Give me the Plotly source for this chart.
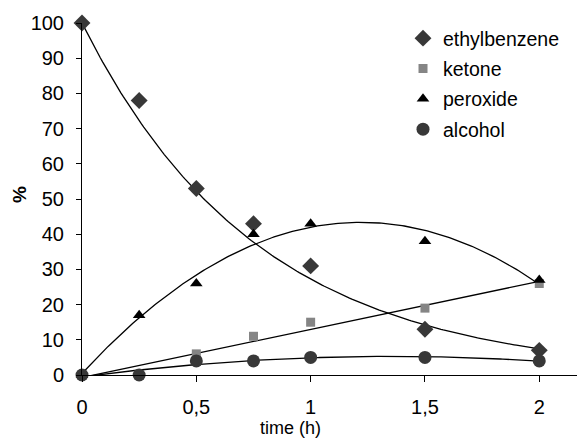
import numpy as np
import plotly.graph_objects as go

time_h = [0, 0.25, 0.5, 0.75, 1, 1.5, 2]
ethylbenzene = [100, 78, 53, 43, 31, 13, 7]
ketone = [0, 0, 6, 11, 15, 19, 26]
peroxide = [0, 17, 26, 40, 43, 38, 27]
alcohol = [0, 0, 4, 4, 5, 5, 4]
x_tickvals = [0, 0.5, 1, 1.5, 2]
x_ticktext = ["0", "0,5", "1", "1,5", "2"]

t = np.array(time_h, dtype=float)
xs = np.linspace(0, 2, 201)

# trend lines fitted from the data
eb = np.array(ethylbenzene, dtype=float)
# exponential trend line with intercept fixed at the initial value
k = np.sum(t * np.log(eb / eb[0])) / np.sum(t * t)
eb_fit = eb[0] * np.exp(k * xs)
ke_fit = np.polyval(np.polyfit(t, ketone, 1), xs)
pe_fit = np.polyval(np.polyfit(t, peroxide, 2), xs)
al_fit = np.polyval(np.polyfit(t, alcohol, 2), xs)

fig = go.Figure()
for fit in [eb_fit, ke_fit, pe_fit, al_fit]:
    fig.add_trace(go.Scatter(x=xs, y=fit, mode="lines", line=dict(color="black", width=1.3),
                             showlegend=False, hoverinfo="skip"))

series = [
    ("ethylbenzene", ethylbenzene, "diamond", "#383838", 13),
    ("ketone", ketone, "square", "#858585", 9),
    ("peroxide", peroxide, "triangle-up", "#000000", 11),
    ("alcohol", alcohol, "circle", "#383838", 13),
]
for name, vals, sym, col, size in series:
    fig.add_trace(go.Scatter(x=time_h, y=vals, mode="markers", name=name, legendgroup=name,
                             marker=dict(symbol=sym, color=col, size=size, line=dict(width=0)),
                             cliponaxis=False))

fig.update_layout(
    width=577, height=439,
    margin=dict(l=82, r=0, t=23, b=64),
    paper_bgcolor="white", plot_bgcolor="white",
    font=dict(family="Liberation Sans, Arial, sans-serif", size=20, color="black"),
    legend=dict(x=0.6485, y=1.0115, xanchor="left", yanchor="top", font=dict(size=19.5),
                tracegroupgap=2, bgcolor="rgba(0,0,0,0)"),
    annotations=[
        dict(text="time (h)", xref="paper", yref="paper", x=(290 - 82) / 495,
             y=-(428 - 375) / 352, xanchor="center", yanchor="middle",
             showarrow=False, font=dict(size=18)),
        dict(text="<b>%</b>", xref="paper", yref="paper", x=(19 - 82) / 495,
             y=(375 - 195) / 352, xanchor="center", yanchor="middle", textangle=-90,
             showarrow=False, font=dict(size=19)),
    ],
)
fig.update_xaxes(range=[0, 2.165], tickvals=x_tickvals, ticktext=x_ticktext,
                 showline=True, linecolor="black", linewidth=1, ticks="outside", ticklen=6,
                 tickcolor="black", showgrid=False, zeroline=False, ticklabelstandoff=8)
fig.update_yaxes(range=[0, 100], dtick=10, showline=True, linecolor="black", linewidth=1,
                 ticks="outside", ticklen=5, tickcolor="black", showgrid=False, zeroline=False,
                 ticklabelstandoff=8)

fig.write_html("out.html")
